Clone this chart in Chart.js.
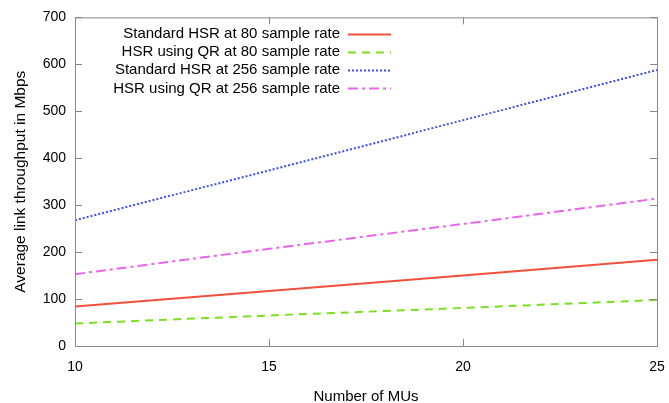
<!DOCTYPE html>
<html>
<head>
<meta charset="utf-8">
<script src="https://cdn.jsdelivr.net/npm/chart.js@4"></script>
<style>
  html, body { margin: 0; padding: 0; background: #fff; }
  #wrap { width: 669px; height: 403px; }
</style>
</head>
<body>
<div id="wrap"><canvas id="graph" width="669" height="403"></canvas></div>
<script>
// valores
const mus = [10, 15, 20, 25];
const stdHsr80 = [84, 117, 150, 184];
const qrHsr80 = [48, 65, 81, 98];
const stdHsr256 = [268, 374, 481, 588];
const qrHsr256 = [153, 207, 260, 314];
const yTicks = [0, 100, 200, 300, 400, 500, 600, 700];
const xTicks = [10, 15, 20, 25];

const FONT = "'Liberation Sans', Arial, sans-serif";

function toPoints(vals) {
    return mus.map((m, i) => ({ x: m, y: vals[i] }));
}

// marco y marcas hacia adentro al estilo gnuplot
const boxPlugin = {
    id: 'box',
    afterDraw(chart) {
        const { ctx, chartArea: a, scales } = chart;
        ctx.save();
        ctx.strokeStyle = '#888';
        ctx.lineWidth = 1;
        ctx.strokeRect(a.left + 0.5, a.top + 0.5, a.right - a.left, a.bottom - a.top);
        ctx.beginPath();
        yTicks.forEach(v => {
            const y = Math.round(scales.y.getPixelForValue(v)) + 0.5;
            ctx.moveTo(a.left, y); ctx.lineTo(a.left + 7, y);
            ctx.moveTo(a.right, y); ctx.lineTo(a.right - 7, y);
        });
        xTicks.forEach(v => {
            const x = Math.round(scales.x.getPixelForValue(v)) + 0.5;
            ctx.moveTo(x, a.bottom); ctx.lineTo(x, a.bottom - 7);
            ctx.moveTo(x, a.top); ctx.lineTo(x, a.top + 7);
        });
        ctx.stroke();
        ctx.restore();
    }
};

// leyenda: texto alineado a la derecha y muestra de linea
const legendPlugin = {
    id: 'gpLegend',
    afterDatasetsDraw(chart) {
        const { ctx } = chart;
        ctx.save();
        ctx.font = '15px ' + FONT;
        ctx.textAlign = 'right';
        ctx.textBaseline = 'middle';
        chart.data.datasets.forEach((ds, i) => {
            const y = 33.5 + i * 18.3;
            ctx.fillStyle = '#000';
            ctx.fillText(ds.label, 340, y);
            ctx.beginPath();
            ctx.strokeStyle = ds.borderColor;
            ctx.lineWidth = ds.borderWidth;
            ctx.setLineDash(ds.borderDash || []);
            ctx.moveTo(348, Math.round(y) + 0.5);
            ctx.lineTo(391, Math.round(y) + 0.5);
            ctx.stroke();
        });
        ctx.restore();
    }
};

const ctx = document.getElementById('graph').getContext('2d');
new Chart(ctx, {
    type: 'line',
    data: {
        datasets: [
            { label: 'Standard HSR at 80 sample rate', data: toPoints(stdHsr80),
              borderColor: 'rgb(240,80,60)', borderWidth: 2 },
            { label: 'HSR using QR at 80 sample rate', data: toPoints(qrHsr80),
              borderColor: 'rgb(120,225,30)', borderWidth: 2, borderDash: [8, 6] },
            { label: 'Standard HSR at 256 sample rate', data: toPoints(stdHsr256),
              borderColor: 'rgb(60,80,235)', borderWidth: 2, borderDash: [2, 2] },
            { label: 'HSR using QR at 256 sample rate', data: toPoints(qrHsr256),
              borderColor: 'rgb(235,100,235)', borderWidth: 2, borderDash: [10, 4, 3, 4] }
        ]
    },
    options: {
        responsive: false,
        animation: false,
        events: [],
        layout: { padding: { top: 16, right: 12, left: 0, bottom: 0 } },
        elements: { point: { radius: 0 }, line: { tension: 0 } },
        plugins: { legend: { display: false }, tooltip: { enabled: false } },
        scales: {
            x: {
                type: 'linear', min: 10, max: 25,
                grid: { display: false, drawTicks: false },
                border: { display: false },
                afterBuildTicks: s => { s.ticks = xTicks.map(v => ({ value: v })); },
                afterFit: s => { s.height = 57; s.paddingLeft = 0; s.paddingRight = 0; },
                ticks: { color: '#000', padding: 13, font: { family: FONT, size: 14 } },
                title: { display: true, text: 'Number of MUs', color: '#000',
                         font: { family: FONT, size: 15 }, padding: { top: 0, bottom: -3 } }
            },
            y: {
                min: 0, max: 700,
                grid: { display: false, drawTicks: false },
                border: { display: false },
                afterBuildTicks: s => { s.ticks = yTicks.map(v => ({ value: v })); },
                afterFit: s => { s.width = 75; },
                ticks: { color: '#000', padding: 9, font: { family: FONT, size: 14 } },
                title: { display: true, text: 'Average link throughput in Mbps', color: '#000',
                         font: { family: FONT, size: 15.5 }, padding: { top: 11, bottom: 4 } }
            }
        }
    },
    plugins: [boxPlugin, legendPlugin]
});
</script>
</body>
</html>
